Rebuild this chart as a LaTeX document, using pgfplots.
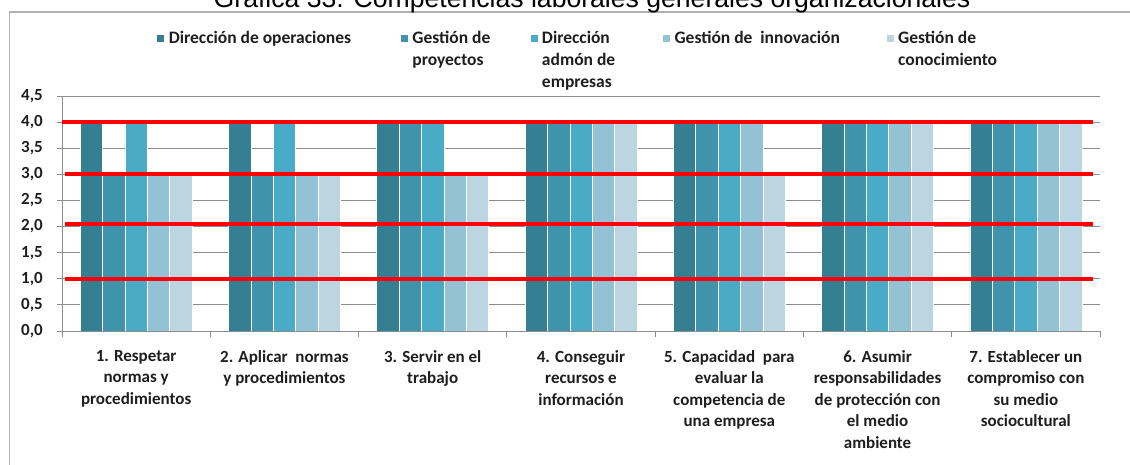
\documentclass[border=0pt]{standalone}
\usepackage{fontspec}
\setmainfont{Carlito}
\newfontfamily\arialfont{Liberation Sans}
\usepackage{pgfplots}
\pgfplotsset{compat=1.18}
\definecolor{cDO}{HTML}{357F93}
\definecolor{cGP}{HTML}{3F94AB}
\definecolor{cDA}{HTML}{4AABC6}
\definecolor{cGI}{HTML}{93C2D4}
\definecolor{cGC}{HTML}{BCD6E1}
\definecolor{gridgray}{HTML}{8C8C8C}
\definecolor{framegray}{HTML}{B0B0B0}
\definecolor{txt}{HTML}{1E1E1E}
\begin{document}
\begin{tikzpicture}
\useasboundingbox (0pt,0pt) rectangle (1130pt,465pt);
\clip (0pt,0pt) rectangle (1130pt,465pt);
\draw[framegray, line width=1.3pt] (9.5pt,-10pt) -- (9.5pt,453pt) -- (1140pt,453pt);
\node[font=\arialfont\fontsize{26.6}{30}\selectfont, anchor=base, inner sep=0pt] at (592pt,457pt) {Gráfica 33. Competencias laborales generales organizacionales};
\begin{axis}[
  at={(62pt,134pt)}, anchor=south west,
  scale only axis, width=1038pt, height=235pt,
  xmin=-0.5, xmax=6.5, ymin=0, ymax=4.5,
  ybar=0pt, bar width=22.4pt,
  axis x line*=bottom, axis y line*=left,
  axis line style={gridgray, line width=0.9pt},
  ytick={0,0.5,1,1.5,2,2.5,3,3.5,4,4.5},
  yticklabels={{0,0\kern14pt},{0,5\kern14pt},{1,0\kern14pt},{1,5\kern14pt},{2,0\kern14pt},{2,5\kern14pt},{3,0\kern14pt},{3,5\kern14pt},{4,0\kern14pt},{4,5\kern14pt}},
  yticklabel style={text=txt, font=\bfseries\fontsize{17}{18}\selectfont, anchor=east, inner sep=0pt},
  ymajorgrids, grid style={gridgray, line width=0.9pt},
  ytick style={gridgray, line width=0.9pt},
  ytick align=outside,
  major tick length=5pt,
  xtick={0,1,2,3,4,5,6},
  xtick style={draw=none},
  minor xtick={-0.5,0.5,1.5,2.5,3.5,4.5,5.5,6.5},
  minor tick length=6pt,
  xtick align=outside,
  minor x tick style={gridgray, line width=0.9pt, draw=gridgray},
  xticklabels={
    {1. Respetar\\normas y\\procedimientos},
    {2. Aplicar\ \ normas\\y procedimientos},
    {3. Servir en el\\trabajo},
    {4. Conseguir\\recursos e\\información},
    {5. Capacidad\ \ para\\evaluar la\\competencia de\\una empresa},
    {6. Asumir\\responsabilidades\\de protección con\\el medio\\ambiente},
    {7. Establecer un\\compromiso con\\su medio\\sociocultural}},
  xticklabel style={align=center, anchor=north, text=txt, inner sep=0pt, yshift=-14pt,
    font=\bfseries\fontsize{17}{21.5}\selectfont},
  legend columns=5,
  legend cell align=left,
  legend style={draw=none, fill=none, at={(0.0915,1.277)}, anchor=north west,
    inner sep=0pt, column sep=0pt, text=txt,
    font=\bfseries\fontsize{17.5}{22}\selectfont,
    cells={anchor=base west}, nodes={inner sep=0pt}},
  legend image code/.code={\path[#1, draw=none] (0pt,1.5pt) rectangle (7pt,8.5pt); \path (0pt,0pt) (11pt,0pt);},
]
\addplot[fill=cDO, draw=white, line width=0.6pt] coordinates {(0,4) (1,4) (2,4) (3,4) (4,4) (5,4) (6,4)};
\addplot[fill=cGP, draw=white, line width=0.6pt] coordinates {(0,3) (1,3) (2,4) (3,4) (4,4) (5,4) (6,4)};
\addplot[fill=cDA, draw=white, line width=0.6pt] coordinates {(0,4) (1,4) (2,4) (3,4) (4,4) (5,4) (6,4)};
\addplot[fill=cGI, draw=white, line width=0.6pt] coordinates {(0,3) (1,3) (2,3) (3,4) (4,4) (5,4) (6,4)};
\addplot[fill=cGC, draw=white, line width=0.6pt] coordinates {(0,3) (1,3) (2,3) (3,4) (4,3) (5,4) (6,4)};
\addlegendentry{\parbox[t]{232pt}{Dirección de operaciones}}
\addlegendentry{\parbox[t]{118pt}{Gestión de\\proyectos}}
\addlegendentry{\parbox[t]{121pt}{Dirección\\admón de\\empresas}}
\addlegendentry{\parbox[t]{212pt}{Gestión de\ \ innovación}}
\addlegendentry{\parbox[t]{100pt}{Gestión de\\conocimiento}}
\addplot[sharp plot, red, line width=4pt, forget plot] coordinates {(-0.5,4) (6.452,4)};
\addplot[sharp plot, red, line width=4pt, forget plot] coordinates {(-0.48,3) (6.452,3)};
\addplot[sharp plot, red, line width=4pt, forget plot] coordinates {(-0.48,2.04) (6.452,2.04)};
\addplot[sharp plot, red, line width=4pt, forget plot] coordinates {(-0.48,1) (6.452,1)};
\end{axis}
\end{tikzpicture}
\end{document}
